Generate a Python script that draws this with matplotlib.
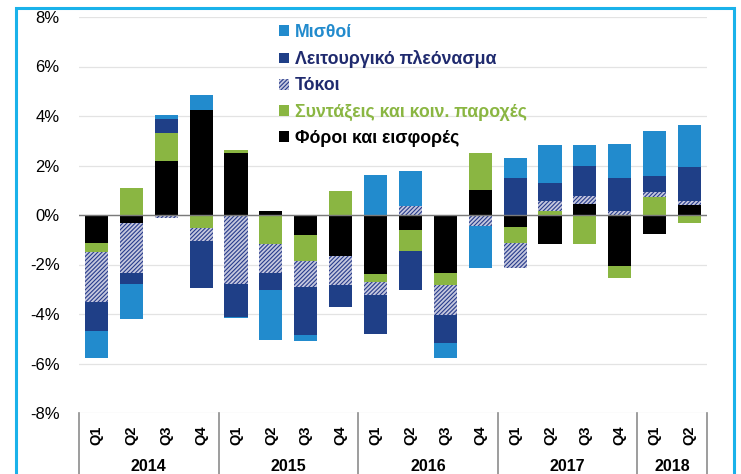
import numpy as np
import matplotlib
matplotlib.use('Agg')
import matplotlib.pyplot as plt
from matplotlib.patches import Rectangle
from matplotlib.ticker import FuncFormatter
import matplotlib.transforms as mtransforms

plt.rcParams['font.family'] = ['Liberation Sans', 'DejaVu Sans']
plt.rcParams['hatch.linewidth'] = 0.8

quarters = ['Q1', 'Q2', 'Q3', 'Q4'] * 4 + ['Q1', 'Q2']
years = ['2014', '2015', '2016', '2017', '2018']
year_len = [4, 4, 4, 4, 2]

# series in stacking order (closest to zero first)
foroi = [-1.15, -0.34, 2.20, 4.26, 2.50, 0.15, -0.82, -1.65, -2.38, -0.59, -2.34, 1.00, -0.50, -1.16, 0.43, -2.05, -0.78, 0.39]
syntaxeis = [-0.34, 1.08, 1.11, -0.53, 0.11, -1.18, -1.04, 0.96, -0.34, -0.85, -0.50, 1.50, -0.65, 0.16, -1.18, -0.51, 0.72, -0.31]
tokoi = [-2.03, -2.00, -0.14, -0.51, -2.80, -1.16, -1.04, -1.19, -0.51, 0.38, -1.22, -0.43, -1.01, 0.42, 0.34, 0.16, 0.20, 0.16]
leitourgiko = [-1.18, -0.43, 0.57, -1.89, -1.32, -0.70, -1.96, -0.86, -1.57, -1.59, -1.11, 0.00, 1.50, 0.73, 1.22, 1.32, 0.66, 1.38]
misthoi = [-1.09, -1.43, 0.16, 0.57, -0.05, -2.01, -0.24, 0.00, 1.61, 1.41, -0.62, -1.73, 0.80, 1.50, 0.85, 1.38, 1.82, 1.72]

labels = ['Φόροι και εισφορές', 'Συντάξεις και κοιν. παροχές', 'Τόκοι',
          'Λειτουργικό πλεόνασμα', 'Μισθοί']
colors = ['#000000', '#8ab642', '#ffffff', '#1f3f87', '#228bcd']
text_colors = ['#000000', '#8ab642', '#1f2a6e', '#1f2a6e', '#228bcd']

fig = plt.figure(figsize=(7.41, 4.74), dpi=100)
ax = fig.add_axes([79 / 741, 1 - 413 / 474, (707 - 79) / 741, (413 - 17) / 474])

x = np.arange(len(quarters))
pos_base = np.zeros(len(x))
neg_base = np.zeros(len(x))
handles = []
for vals, lab, col in zip([foroi, syntaxeis, tokoi, leitourgiko, misthoi], labels, colors):
    v = np.array(vals)
    base = np.where(v >= 0, pos_base, neg_base)
    if lab == 'Τόκοι':
        b = ax.bar(x, v, 0.66, bottom=base, color='#c5c8de', edgecolor='#283c8c',
                   hatch='////////', linewidth=0, zorder=2, label=lab)
    else:
        b = ax.bar(x, v, 0.66, bottom=base, color=col, linewidth=0, zorder=2, label=lab)
    handles.append(b)
    pos_base += np.where(v >= 0, v, 0)
    neg_base += np.where(v < 0, v, 0)

ax.set_xlim(-0.5, len(x) - 0.5)
ax.set_ylim(-8, 8)
ax.set_yticks(np.arange(-8, 9, 2))
ax.yaxis.set_major_formatter(FuncFormatter(lambda v, p: f'{v:.0f}%'))
ax.grid(axis='y', color='#e3e3e3', linewidth=0.9, zorder=0)
ax.axhline(0, color='#7a7a7a', linewidth=1.0, zorder=3)
for s in ax.spines.values():
    s.set_visible(False)
ax.tick_params(axis='y', length=0, labelsize=12, pad=14)
ax.set_xticks(x)
ax.set_xticklabels(quarters, rotation=90, fontsize=10.5, fontweight='bold')
ax.tick_params(axis='x', length=0, pad=9)

trans = mtransforms.blended_transform_factory(ax.transData, ax.transAxes)
start = 0
bounds = [-0.5]
for yr, n in zip(years, year_len):
    ax.text(start + (n - 1) / 2, -0.136, yr, transform=trans, ha='center', va='center',
            fontsize=11.5, fontweight='bold')
    start += n
    bounds.append(start - 0.5)
for bx in bounds:
    ax.plot([bx, bx], [0, -0.16], transform=trans, color='#8c8c8c', linewidth=1.2,
            clip_on=False)

leg = ax.legend(handles[::-1], labels[::-1], loc='upper left',
                bbox_to_anchor=(279 / 741, 1 - 24 / 474), bbox_transform=fig.transFigure,
                frameon=False, handlelength=0.55, handleheight=0.55, handletextpad=0.35,
                labelspacing=0.52, borderaxespad=0, borderpad=0,
                prop={'size': 12.8, 'weight': 'bold'})
for t, c in zip(leg.get_texts(), text_colors[::-1]):
    t.set_color(c)

fig.patches.append(Rectangle((16 / 741, -0.05), (734 - 16) / 741, 1.05 - 8 / 474,
                             transform=fig.transFigure, fill=False,
                             edgecolor='#1ab2ea', linewidth=2.2))

fig.savefig('out.png', dpi=100)
